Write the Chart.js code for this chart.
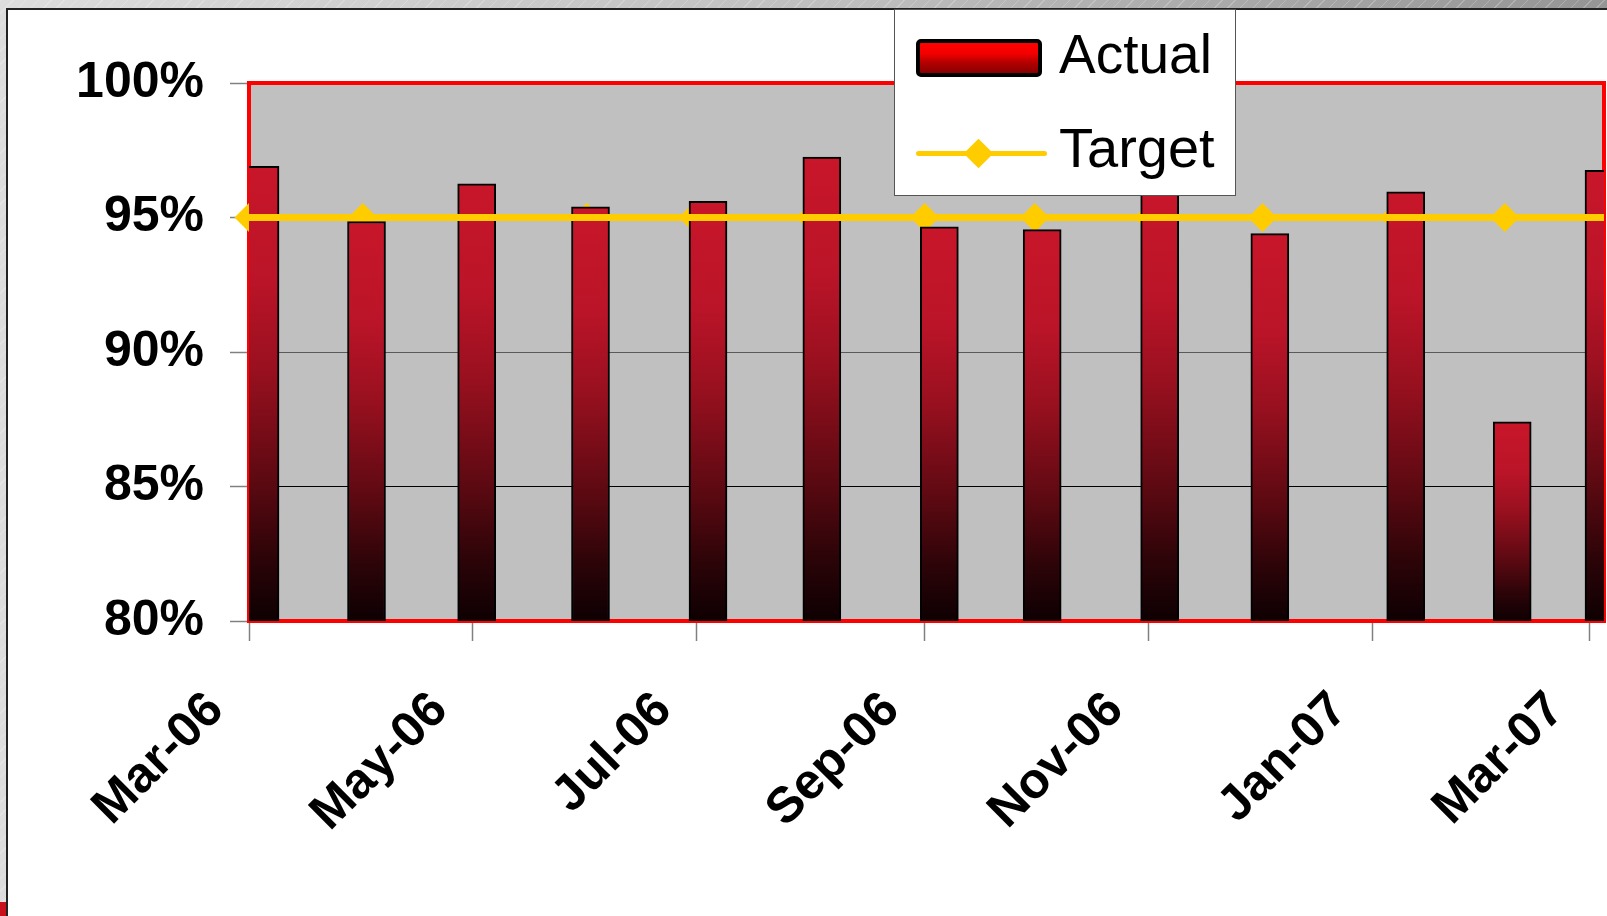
<!DOCTYPE html>
<html>
<head>
  <meta charset="UTF-8">
  <title>Actual vs Target</title>
  <script src="https://cdn.jsdelivr.net/npm/chart.js"></script>
  <style>
    html, body { margin: 0; padding: 0; }
    body {
      width: 1607px;
      height: 916px;
      overflow: hidden;
      position: relative;
      font-family: 'Liberation Sans', Arial, sans-serif;
      background:
        repeating-linear-gradient(135deg, rgba(255,255,255,0.22) 0 1px, transparent 1px 9px),
        linear-gradient(to right, #dddddd, #bdbdbd 55%, #959595);
    }
    .redmark {
      position: absolute; left: 0; top: 902px; width: 7px; height: 14px;
      background: #c8101c;
    }
    .panel {
      position: absolute; left: 6px; top: 8px; right: 0; bottom: 0;
      background: #fff;
      border-left: 2px solid #222;
      border-top: 2px solid #222;
    }
    canvas { position: absolute; left: 0; top: 0; }
    .legend {
      position: absolute; left: 894px; top: 9px; width: 342px; height: 187px;
      background: #fff; border: 1px solid #555; box-sizing: border-box;
    }
    .sw-actual {
      position: absolute; left: 916px; top: 39px; width: 126px; height: 38px;
      box-sizing: border-box; border: 4px solid #000; border-radius: 5px;
      background: linear-gradient(#ff0000, #f40000 35%, #b40000 65%, #880000);
    }
    .sw-line {
      position: absolute; left: 916px; top: 151px; width: 131px; height: 5px;
      border-radius: 3px; background: #ffcc00;
    }
    .sw-diamond {
      position: absolute; left: 968px; top: 143px; width: 21px; height: 21px;
      background: #ffcc00; transform: rotate(45deg);
    }
    .lg-text {
      position: absolute; left: 1059px; font-size: 55px; line-height: 55px; color: #000;
    }
  </style>
</head>
<body>
  <div class="redmark"></div>
  <div class="panel"></div>
  <canvas id="chart" width="1607" height="916"></canvas>
  <div class="legend"></div>
  <div class="sw-actual"></div>
  <div class="lg-text" style="top: 27px;">Actual</div>
  <div class="sw-line"></div>
  <div class="sw-diamond"></div>
  <div class="lg-text" style="top: 120px; font-size: 56px;">Target</div>

  <script>
    // monthly actuals (bar dates as plotted on the date axis)
    const barDates = ['2006-03-04', '2006-04-02', '2006-05-02', '2006-06-02', '2006-07-04', '2006-08-04',
                      '2006-09-05', '2006-10-03', '2006-11-04', '2006-12-04', '2007-01-10', '2007-02-08', '2007-03-05'];
    const actual = [96.9, 94.85, 96.25, 95.4, 95.6, 97.25, 94.65, 94.55, 96.05, 94.4, 95.95, 87.4, 96.75];

    // target line
    const targetDates = ['2006-03-01', '2006-04-01', '2006-05-01', '2006-06-01', '2006-06-30', '2006-08-01',
                         '2006-09-01', '2006-10-01', '2006-11-01', '2006-12-02', '2007-01-07', '2007-02-06', '2007-03-05'];
    const target = [95, 95, 95, 95, 95, 95, 95, 95, 95, 95, 95, 95, 95];

    // axis ticks
    const tickDates = ['2006-03-01', '2006-05-01', '2006-07-01', '2006-09-01', '2006-11-01', '2007-01-01', '2007-03-01'];
    const tickLabels = ['Mar-06', 'May-06', 'Jul-06', 'Sep-06', 'Nov-06', 'Jan-07', 'Mar-07'];
    const yTicks = [80, 85, 90, 95, 100];

    const origin = Date.UTC(2006, 2, 1);
    const dayOf = s => (Date.parse(s) - origin) / 86400000;

    const barPoints = barDates.map((d, i) => ({ x: dayOf(d), y: actual[i] }));
    const targetPoints = targetDates.map((d, i) => ({ x: dayOf(d), y: target[i] }));

    function barFill(c) {
      const chart = c.chart;
      const area = chart.chartArea;
      if (!area || c.type !== 'data') return '#c41429';
      const top = chart.scales.y.getPixelForValue(c.parsed.y);
      const g = chart.ctx.createLinearGradient(0, top, 0, area.bottom);
      g.addColorStop(0, '#c8162a');
      g.addColorStop(0.25, '#bb1428');
      g.addColorStop(0.45, '#98101f');
      g.addColorStop(0.7, '#5a0911');
      g.addColorStop(0.86, '#2c0408');
      g.addColorStop(1, '#0e0002');
      return g;
    }

    // grey plot background + red frame
    const plotFrame = {
      id: 'plotFrame',
      beforeDraw(chart) {
        const { ctx, chartArea: a } = chart;
        ctx.save();
        ctx.fillStyle = '#c0c0c0';
        ctx.fillRect(a.left, a.top, a.width, a.height);
        ctx.restore();
      },
      beforeDatasetsDraw(chart) {
        const { ctx, chartArea: a } = chart;
        ctx.save();
        ctx.strokeStyle = '#ff0000';
        ctx.lineWidth = 4;
        ctx.strokeRect(a.left, a.top, a.width, a.height);
        ctx.restore();
      }
    };

    const font = { family: "'Liberation Sans', Arial, sans-serif", weight: 'bold' };

    new Chart(document.getElementById('chart'), {
      type: 'bar',
      data: {
        datasets: [
          {
            type: 'line',
            label: 'Target',
            data: targetPoints,
            borderColor: '#ffcc00',
            borderWidth: 7,
            pointRadius: 0,
            order: 1,
            clip: 0
          },
          {
            label: 'Actual',
            data: barPoints,
            backgroundColor: barFill,
            borderColor: '#000',
            borderWidth: 2,
            barThickness: 38,
            order: 2,
            clip: 0
          },
          {
            type: 'line',
            label: 'Target markers',
            data: targetPoints,
            showLine: false,
            pointStyle: 'rectRot',
            pointRadius: 14.5,
            pointBackgroundColor: '#ffcc00',
            pointBorderWidth: 0,
            order: 3,
            clip: { left: 18, top: 0, right: 0, bottom: 0 }
          }
        ]
      },
      options: {
        responsive: false,
        animation: false,
        devicePixelRatio: 1,
        layout: { autoPadding: false, padding: { top: 83, right: 3, left: 0, bottom: 0 } },
        plugins: {
          legend: { display: false },
          tooltip: { enabled: false }
        },
        scales: {
          x: {
            type: 'linear',
            min: 0,
            max: 369,
            offset: false,
            afterBuildTicks: s => { s.ticks = tickDates.map(d => ({ value: dayOf(d) })); },
            afterFit: s => { s.height = 295; s.paddingLeft = 0; s.paddingRight = 0; },
            border: { display: false },
            grid: {
              offset: false,
              drawOnChartArea: false,
              tickLength: 20,
              tickColor: '#808080',
              tickWidth: 1.5
            },
            ticks: {
              autoSkip: false,
              minRotation: 45,
              maxRotation: 45,
              labelOffset: -33,
              padding: 40,
              color: '#000',
              font: { ...font, size: 50 },
              callback: (v, i) => tickLabels[i]
            }
          },
          y: {
            min: 80,
            max: 100,
            afterBuildTicks: s => { s.ticks = yTicks.map(v => ({ value: v })); },
            afterFit: s => { s.width = 249; },
            border: { display: false },
            grid: {
              color: c => (c.tick && c.tick.value === 85) ? '#000' : '#5a5a5a',
              lineWidth: 1,
              tickLength: 19,
              tickColor: '#808080',
              tickWidth: 1.5
            },
            ticks: {
              padding: 26,
              color: '#000',
              font: { ...font, size: 50 },
              callback: v => v + '%'
            }
          }
        }
      },
      plugins: [plotFrame]
    });
  </script>
</body>
</html>
